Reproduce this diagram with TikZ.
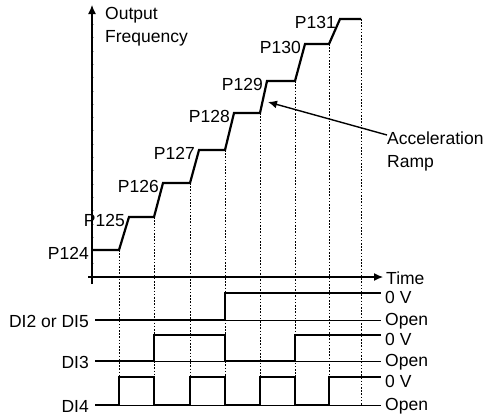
\documentclass[tikz,border=0pt]{standalone}
\usepackage{fontspec}
\setmainfont{Liberation Sans}
\usetikzlibrary{arrows.meta,calc}
\tikzset{
  >={Latex[length=9pt,width=8pt]},
  lbl/.style={font=\fontsize{17.5}{23}\selectfont, inner sep=0pt, align=left},
  axis/.style={line width=1.2pt},
  curve/.style={line width=2.2pt, line join=miter},
  sig/.style={line width=2.2pt},
  ref/.style={line width=0.9pt},
  guide/.style={line width=0.9pt, dash pattern=on 1.6pt off 1.6pt},
  tickmark/.style={line width=0.5pt, black!30},
}

\begin{document}
\begin{tikzpicture}[x=1pt,y=-1pt]
  \useasboundingbox (0,0) rectangle (494,416);
  % dotted guides
  \foreach \gx/\gy in {119/250,154/217,190/183,225/150,260/113,295/81,329/44,361/19}
    \draw[guide] (\gx,\gy) -- (\gx,405);
  % axes
  \foreach \t in {1,...,19} \draw[tickmark] (90.5,277-13.3*\t) -- (93.5,277-13.3*\t);
  \draw[axis,->] (92,284) -- (92,5);
  \draw[axis,->] (88,277) -- (383,277);
  \node[lbl,anchor=west] (freq) at (105,27) {Output\\Frequency};
  \node[lbl,anchor=west] (time) at (386,278) {Time};
  % output frequency steps
  \draw[curve] (92,250) -- (119,250) -- (129,217) -- (154,217) -- (163,183) -- (190,183)
    -- (199,150) -- (225,150) -- (234,113) -- (260,113) -- (267,81) -- (295,81)
    -- (305,44) -- (329,44) -- (340,19) -- (361,19);
  \node[lbl,anchor=east] (p124) at (89,253) {P124};
  \foreach \rx/\lv/\nm in {129/217/P125,163/183/P126,199/150/P127,234/113/P128,
                          267/81/P129,305/44/P130,340/19/P131}
    \node[lbl,anchor=east] (\nm) at (\rx-4,\lv+3) {\nm};
  \node[lbl,anchor=west] (acc) at (387,151) {Acceleration\\Ramp};
  \coordinate (ramp) at (268,102);
  \draw[line width=1.4pt,->] ([yshift=16pt]acc.west) -- (ramp);
  % digital inputs
  \foreach \nm/\op/\zr/\tx in {dia/320/293/DI2 or DI5,dib/361/335/DI3,dic/405/377/DI4}{
    \node[lbl,anchor=east] (\nm) at (89,\op+1) {\tx};
    \draw[ref] (95,\op) -- (381,\op);
    \node[lbl,anchor=west] (\nm z) at (385,\zr+4.5) {0 V};
    \node[lbl,anchor=west] (\nm o) at (385,\op+1) {Open};
  }
  \draw[sig] (95,320) -- (225,320) -- (225,293) -- (381,293);
  \draw[sig] (95,361) -- (154,361) -- (154,335) -- (225,335) -- (225,361) -- (295,361)
    -- (295,335) -- (381,335);
  \draw[sig] (95,405) -- (119,405) -- (119,377) -- (154,377) -- (154,405) -- (190,405)
    -- (190,377) -- (225,377) -- (225,405) -- (260,405) -- (260,377) -- (295,377)
    -- (295,405) -- (329,405) -- (329,377) -- (381,377);
\end{tikzpicture}
\end{document}
